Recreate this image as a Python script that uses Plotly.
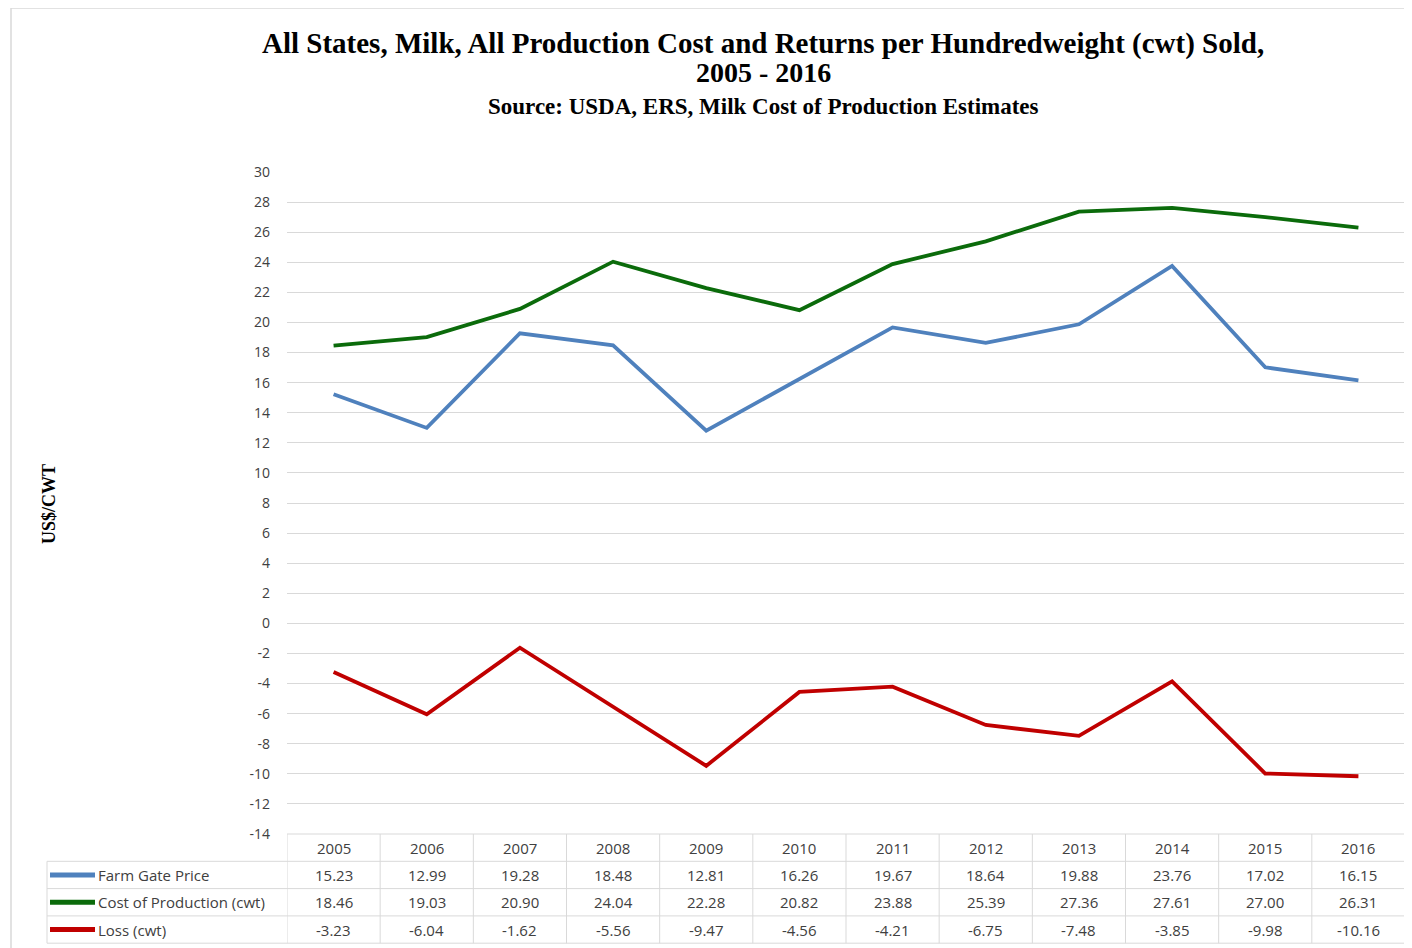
import plotly.graph_objects as go

years = ["2005", "2006", "2007", "2008", "2009", "2010", "2011", "2012", "2013", "2014", "2015", "2016"]
farm_gate_price = [15.23, 12.99, 19.28, 18.48, 12.81, 16.26, 19.67, 18.64, 19.88, 23.76, 17.02, 16.15]
cost_of_production = [18.46, 19.03, 20.90, 24.04, 22.28, 20.82, 23.88, 25.39, 27.36, 27.61, 27.00, 26.31]
loss = [-3.23, -6.04, -1.62, -5.56, -9.47, -4.56, -4.21, -6.75, -7.48, -3.85, -9.98, -10.16]
y_ticks = list(range(-14, 31, 2))

series = [
    ("Farm Gate Price", farm_gate_price, "#4F81BD"),
    ("Cost of Production (cwt)", cost_of_production, "#0B6B0B"),
    ("Loss (cwt)", loss, "#C00000"),
]

# the page body has an 8px margin, so work in page pixels and shift
OFF = 8
W, H = 1412 - OFF, 948 - OFF
L, R, T, B = 287 - OFF, 7, 172 - OFF, 948 - 834
PW, PH = W - L - R, H - T - B


# page pixel -> paper helpers for the table / titles
def px(x):
    return (x - OFF - L) / PW


def py(y):
    return (H - B - (y - OFF)) / PH


fig = go.Figure()
for name, vals, col in series:
    fig.add_trace(go.Scatter(x=years, y=vals, name=name, mode="lines",
                             line=dict(color=col, width=3.8), showlegend=False))

grid = "#D9D9D9"
txt = "#404040"
tfont = dict(family="Open Sans, Lato, sans-serif", size=15, color=txt)
shapes = []
ann = []

# outer frame
shapes.append(dict(type="rect", xref="paper", yref="paper", x0=px(11), x1=px(1411),
                   y0=py(960), y1=py(8), line=dict(color=grid, width=1.5), layer="below"))

# data table under the plot
row_h = 27.3
top = 834
rows_y = [top + row_h * k for k in range(5)]
shapes.append(dict(type="line", xref="paper", yref="paper", x0=0, x1=1,
                   y0=py(rows_y[0]), y1=py(rows_y[0]), line=dict(color=grid, width=1)))
for yy in rows_y[1:]:
    shapes.append(dict(type="line", xref="paper", yref="paper", x0=px(47), x1=1,
                       y0=py(yy), y1=py(yy), line=dict(color=grid, width=1)))
for i in range(len(years) + 1):
    shapes.append(dict(type="line", xref="x", yref="paper", x0=i - 0.5, x1=i - 0.5,
                       y0=py(rows_y[0]), y1=py(rows_y[-1]), line=dict(color=grid, width=1)))
shapes.append(dict(type="line", xref="paper", yref="paper", x0=px(47), x1=px(47),
                   y0=py(rows_y[1]), y1=py(rows_y[-1]), line=dict(color=grid, width=1)))

cell = dict(showarrow=False, xanchor="center", yanchor="middle", font=tfont)
for i, yr in enumerate(years):
    ann.append(dict(x=i, xref="x", y=py(rows_y[0] + row_h / 2), yref="paper", text=yr, **cell))
for r, (name, vals, col) in enumerate(series):
    yc = py(rows_y[r + 1] + row_h / 2)
    shapes.append(dict(type="line", xref="paper", yref="paper", x0=px(50), x1=px(95),
                       y0=yc, y1=yc, line=dict(color=col, width=5)))
    ann.append(dict(x=px(96), xref="paper", y=yc, yref="paper", text=name, showarrow=False,
                    xanchor="left", yanchor="middle", font=tfont))
    for i, v in enumerate(vals):
        ann.append(dict(x=i, xref="x", y=yc, yref="paper", text=f"{v:.2f}", **cell))

# titles
serif = "Liberation Serif, Times New Roman, serif"
head = dict(showarrow=False, xanchor="center", yanchor="middle", xref="paper", yref="paper")
ann.append(dict(x=px(763), y=py(43),
                text="<b>All States, Milk, All Production Cost and Returns per Hundredweight (cwt) Sold,</b>",
                font=dict(family=serif, size=29, color="black"), **head))
ann.append(dict(x=px(763), y=py(73), text="<b>2005 - 2016</b>",
                font=dict(family=serif, size=28, color="black"), **head))
ann.append(dict(x=px(763), y=py(106),
                text="<b>Source: USDA, ERS, Milk Cost of Production Estimates</b>",
                font=dict(family=serif, size=23, color="black"), **head))
ann.append(dict(x=px(49), y=py(504), text="<b>US$/CWT</b>", textangle=-90,
                font=dict(family=serif, size=18, color="black"), **head))

fig.update_layout(
    width=W, height=H,
    margin=dict(l=L, r=R, t=T, b=B),
    paper_bgcolor="white", plot_bgcolor="white",
    shapes=shapes, annotations=ann,
    xaxis=dict(type="category", range=[-0.5, 11.5], showticklabels=False,
               showgrid=False, zeroline=False, showline=False),
    yaxis=dict(range=[-14, 30], tickmode="array", tickvals=y_ticks,
               ticktext=[str(v) for v in y_ticks], gridcolor=grid, gridwidth=1,
               zeroline=False, showline=False, ticklabelstandoff=16,
               tickfont=dict(family="Open Sans, Lato, sans-serif", size=14, color=txt)),
)

fig.write_html("out.html")
